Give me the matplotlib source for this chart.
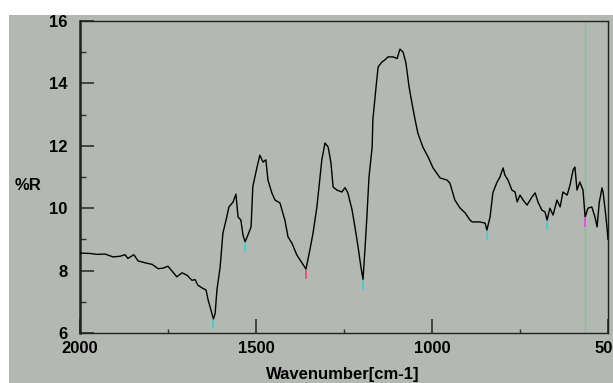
import numpy as np
import matplotlib
matplotlib.use("Agg")
import matplotlib.pyplot as plt
from matplotlib.ticker import MultipleLocator
from matplotlib.patches import Rectangle

# spectrum: wavenumber [cm-1] and %R
wavenumber = [2000, 1972, 1952, 1929, 1906, 1886, 1872, 1864, 1847, 1835,
              1815, 1795, 1778, 1764, 1750, 1739, 1725, 1710, 1696, 1682,
              1673, 1665, 1651, 1642, 1636, 1628, 1621, 1616, 1611, 1602,
              1594, 1583, 1577, 1565, 1557, 1551, 1543, 1537, 1531, 1523,
              1514, 1509, 1497, 1489, 1480, 1472, 1466, 1455, 1446, 1432,
              1418, 1409, 1398, 1384, 1369, 1358, 1347, 1338, 1327, 1321,
              1313, 1304, 1295, 1287, 1281, 1270, 1256, 1247, 1239, 1227,
              1219, 1210, 1202, 1196, 1190, 1185, 1179, 1170, 1168, 1159,
              1153, 1142, 1134, 1125, 1111, 1099, 1091, 1082, 1074, 1065,
              1057, 1048, 1040, 1026, 1011, 997, 977, 957, 949, 935,
              920, 906, 892, 886, 864, 849, 844, 835, 827, 815,
              807, 798, 793, 784, 773, 764, 758, 750, 741, 730,
              716, 707, 699, 688, 679, 673, 665, 656, 645, 636,
              628, 616, 608, 599, 594, 588, 580, 571, 565, 557,
              546, 537, 531, 525, 517, 514, 508, 503, 500]
reflect = [8.56, 8.55, 8.52, 8.53, 8.44, 8.46, 8.51, 8.39, 8.51, 8.31,
           8.25, 8.20, 8.06, 8.08, 8.14, 7.99, 7.80, 7.93, 7.85, 7.69,
           7.71, 7.53, 7.43, 7.38, 7.06, 6.74, 6.45, 6.63, 7.38, 8.10,
           9.20, 9.72, 10.04, 10.20, 10.45, 9.72, 9.62, 9.14, 8.92, 9.14,
           9.40, 10.70, 11.32, 11.70, 11.48, 11.55, 10.90, 10.49, 10.26, 10.17,
           9.62, 9.08, 8.88, 8.50, 8.24, 8.05, 8.66, 9.20, 10.04, 10.68,
           11.55, 12.09, 11.96, 11.45, 10.68, 10.58, 10.52, 10.66, 10.49, 9.94,
           9.40, 8.76, 8.12, 7.72, 8.76, 9.72, 11.00, 11.96, 12.83, 13.88,
           14.53, 14.69, 14.75, 14.85, 14.85, 14.80, 15.10, 15.00, 14.65, 13.88,
           13.37, 12.83, 12.40, 11.96, 11.64, 11.29, 10.97, 10.90, 10.80, 10.26,
           10.00, 9.85, 9.62, 9.56, 9.56, 9.52, 9.30, 9.72, 10.50, 10.84,
           11.00, 11.29, 11.06, 10.90, 10.58, 10.52, 10.20, 10.42, 10.26, 10.10,
           10.36, 10.49, 10.20, 9.94, 9.88, 9.62, 10.00, 9.78, 10.26, 10.04,
           10.52, 10.42, 10.74, 11.23, 11.32, 10.58, 10.84, 10.58, 9.72, 10.00,
           10.04, 9.72, 9.40, 10.17, 10.65, 10.52, 9.94, 9.40, 9.00]

# peak-pick marks under the minima and the cursor line
pick_wn = [1621, 1531, 1358, 1196, 844, 673, 565]
pick_col = ['#40d0d0', '#40d0d0', '#e05070', '#40d0d0', '#40d0d0', '#40d0d0', '#e050e0']
cursor_wn = 565

bg = '#b3b8b2'
W, H = 613, 383
fig = plt.figure(figsize=(W / 100, H / 100), dpi=100, facecolor='white')
fig.add_artist(Rectangle((9 / W, 0), 1, 1 - 15 / H, transform=fig.transFigure,
                         facecolor=bg, edgecolor='none', zorder=-10))

ax = fig.add_axes([80 / W, (H - 333) / H, 528 / W, 312 / H])
ax.set_facecolor(bg)
ax.set_zorder(1)

ax.plot(wavenumber, reflect, color='black', lw=1.0, zorder=3)
ax.axvline(cursor_wn, color='#88c488', lw=1.0, zorder=2)

wn_r = np.array(wavenumber[::-1])
r_r = np.array(reflect[::-1])
for w, c in zip(pick_wn, pick_col):
    yv = np.interp(w, wn_r, r_r)
    ax.plot([w, w], [yv - 0.3, yv - 0.05], color=c, lw=1.3, zorder=4)

ax.set_xlim(2000, 500)
ax.set_ylim(6, 16)
ax.xaxis.set_major_locator(MultipleLocator(500))
ax.xaxis.set_minor_locator(MultipleLocator(250))
ax.yaxis.set_major_locator(MultipleLocator(2))
ax.yaxis.set_minor_locator(MultipleLocator(1))

for s in ax.spines.values():
    s.set_color('#202020')
    s.set_linewidth(1.0)
ax.spines['left'].set_linewidth(1.8)

tick_font = dict(family=['Liberation Sans', 'DejaVu Sans'], weight='bold', size=12)
ax.tick_params(axis='both', which='major', direction='in', length=10, width=1.2,
               color='#303030', top=False, right=False)
ax.tick_params(axis='both', which='minor', direction='in', length=4, width=1.0,
               color='#303030', top=False, right=False)
ax.tick_params(axis='x', which='minor', length=3)
ax.tick_params(axis='y', which='major', pad=9)
ax.tick_params(axis='x', which='major', pad=6)
ax.set_xticks([2000, 1500, 1000, 500])
ax.set_xticklabels(['2000', '1500', '1000', '500'])
for lab in ax.get_xticklabels() + ax.get_yticklabels():
    lab.set_fontfamily(tick_font['family'])
    lab.set_fontweight('bold')
    lab.set_fontsize(12)

fig.text(15 / W, 1 - 186 / H, '%R', ha='left', va='center', **tick_font)
fig.text(343 / W, 1 - 374 / H, 'Wavenumber[cm-1]', ha='center', va='center', **tick_font)

fig.savefig('out.png', dpi=100, facecolor='white')
